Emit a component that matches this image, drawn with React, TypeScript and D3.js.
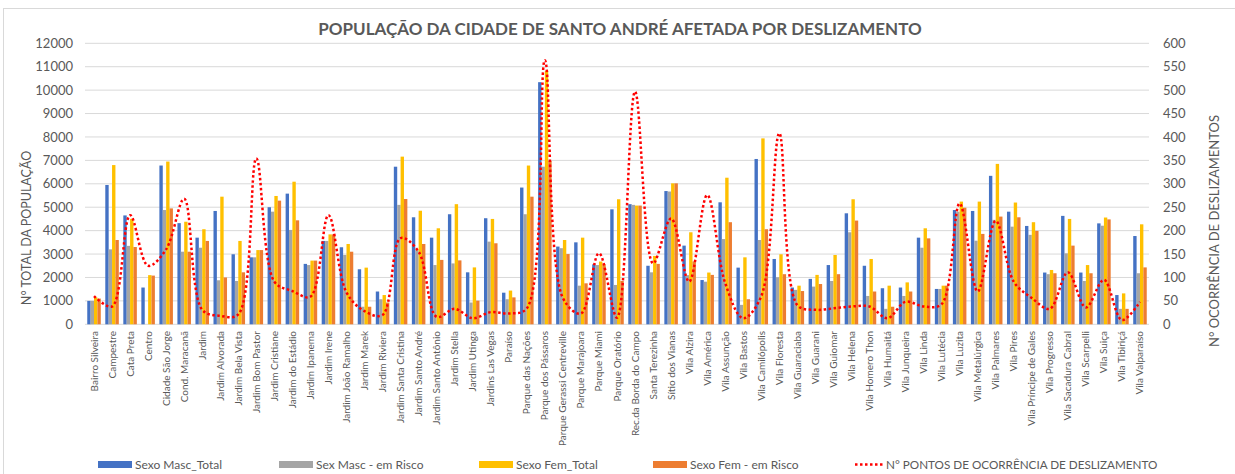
import React from 'react';
import * as d3 from 'd3';

const categories = [
  'Bairro Silveira', 'Campestre', 'Cata Preta', 'Centro', 'Cidade São Jorge', 'Cond. Maracanã',
  'Jardim', 'Jardim Alvorada', 'Jardim Bela Vista', 'Jardim Bom Pastor', 'Jardim Cristiane',
  'Jardim do Estádio', 'Jardim Ipanema', 'Jardim Irene', 'Jardim João Ramalho', 'Jardim Marek',
  'Jardim Riviera', 'Jardim Santa Cristina', 'Jardim Santo André', 'Jardim Santo Antônio',
  'Jardim Stella', 'Jardim Utinga', 'Jardins Las Vegas', 'Paraíso', 'Parque das Nações',
  'Parque dos Pássaros', 'Parque Gerassi Centreville', 'Parque Marajoara', 'Parque Miami',
  'Parque Oratório', 'Rec.da Borda do Campo', 'Santa Terezinha', 'Sítio dos Vianas', 'Vila Alzira',
  'Vila América', 'Vila Assunção', 'Vila Bastos', 'Vila Camilópolis', 'Vila Floresta',
  'Vila Guaraciaba', 'Vila Guarani', 'Vila Guiomar', 'Vila Helena', 'Vila Homero Thon',
  'Vila Humaitá', 'Vila Junqueira', 'Vila Linda', 'Vila Lutécia', 'Vila Luzita',
  'Vila Metalúrgica', 'Vila Palmares', 'Vila Pires', 'Vila Príncipe de Gales', 'Vila Progresso',
  'Vila Sacadura Cabral', 'Vila Scarpelli', 'Vila Suiça', 'Vila Tibiriçá', 'Vila Valparaíso',
];

const mascTotal = [
  1000, 5950, 4650, 1570, 6780, 4320, 3700, 4840, 2990, 2860, 5000, 5580, 2580, 3560, 3290,
  2350, 1400, 6730, 4570, 3700, 4700, 2220, 4530, 1350, 5840, 10340, 3320, 3500, 2560, 4910,
  5130, 2500, 5690, 3360, 1890, 5210, 2420, 7060, 2790, 1570, 1940, 2530, 4740, 2500, 1540,
  1570, 3700, 1510, 4880, 4840, 6340, 4810, 4200, 2210, 4630, 2210, 4310, 1250, 3770,
];
const mascRisco = [
  1000, 3200, 3350, 0, 4880, 3100, 3270, 1880, 1850, 2860, 4810, 4030, 2530, 3560, 2960,
  750, 1070, 5100, 3170, 2530, 2600, 930, 3530, 1070, 4700, 6730, 3250, 1650, 2530, 1680,
  5100, 2220, 5670, 2100, 1820, 3640, 830, 3600, 2010, 1470, 1610, 1850, 3930, 1210, 660,
  1210, 3270, 1510, 4810, 3570, 4460, 4170, 3820, 2140, 3030, 1850, 4210, 660, 2180,
];
const femTotal = [
  1150, 6800, 4500, 2100, 6950, 4380, 4060, 5450, 3560, 3170, 5480, 6090, 2720, 3840, 3430,
  2420, 1250, 7160, 4850, 4100, 5130, 2430, 4500, 1440, 6780, 10820, 3600, 3700, 2680, 5340,
  5070, 2920, 6020, 3930, 2210, 6260, 2860, 7940, 2990, 1650, 2110, 2960, 5340, 2790, 1650,
  1790, 4100, 1650, 5240, 5240, 6850, 5200, 4360, 2320, 4500, 2530, 4560, 1320, 4270,
];
const femRisco = [
  1100, 3600, 3300, 2080, 4950, 3100, 3560, 2000, 2220, 3170, 5280, 4440, 2720, 3840, 3100,
  750, 930, 5350, 3430, 2750, 2730, 1010, 3460, 1150, 5450, 6980, 3000, 1750, 2560, 1850,
  5070, 2580, 6020, 2680, 2110, 4360, 1070, 4060, 2140, 1420, 1720, 2140, 4430, 1400, 750,
  1400, 3670, 1650, 4980, 3860, 4600, 4570, 3990, 2180, 3360, 2180, 4480, 660, 2430,
];
// secondary axis: nº de pontos de ocorrência
const pontos = [
  60, 38, 233, 125, 160, 268, 31, 18, 21, 354, 91, 71, 59, 233, 68,
  28, 20, 184, 155, 16, 33, 13, 26, 23, 34, 564, 56, 23, 152, 14,
  497, 130, 226, 91, 276, 88, 13, 60, 408, 41, 31, 34, 38, 38, 13,
  48, 38, 43, 258, 70, 221, 91, 56, 33, 111, 36, 95, 9, 48,
];

const leftTicks = d3.range(0, 12001, 1000);
const rightTicks = d3.range(0, 601, 50);

const seriesNames = ['Sexo Masc_Total', 'Sex Masc - em Risco', 'Sexo Fem_Total', 'Sexo Fem - em Risco'];
const seriesColors = ['#4472C4', '#A5A5A5', '#FFC000', '#ED7D31'];
const lineName = 'N° PONTOS DE OCORRÊNCIA DE DESLIZAMENTO';

const W = 1235;
const H = 474;
const plot = { left: 85, right: 1149, top: 43.3, bottom: 324.3 };
const FONT = 'Lato, "Liberation Sans", sans-serif';
const TXT = '#595959';

export default function App() {
  const series = [mascTotal, mascRisco, femTotal, femRisco];

  const x = d3.scaleBand<string>()
    .domain(categories)
    .range([plot.left, plot.right])
    .paddingInner(0.25)
    .paddingOuter(0.125);
  const xs = d3.scaleBand<number>()
    .domain(d3.range(series.length))
    .range([0, x.bandwidth()]);
  const y = d3.scaleLinear().domain([0, 12000]).range([plot.bottom, plot.top]);
  const y2 = d3.scaleLinear().domain([0, 600]).range([plot.bottom, plot.top]);

  const cx = (c: string) => (x(c) as number) + x.bandwidth() / 2;

  const line = d3.line<number>()
    .x((_, i) => cx(categories[i]))
    .y(d => y2(d))
    .curve(d3.curveCatmullRom.alpha(0.5));

  const legendItems = [
    { x: 98, w: 34 },
    { x: 279, w: 34 },
    { x: 479, w: 34 },
    { x: 653, w: 34 },
  ];

  return (
    <svg width={W} height={H} style={{ position: 'absolute', left: 0, top: 0, background: '#fff' }}
      fontFamily={FONT}>
      <rect x={3.5} y={8.5} width={1240} height={480} fill="#fff" stroke="#d9d9d9" />

      <text x={620} y={35} textAnchor="middle" fontSize={17} fontWeight="bold" fill={TXT}>
        POPULAÇÃO DA CIDADE DE SANTO ANDRÉ AFETADA POR DESLIZAMENTO
      </text>

      {/* gridlines */}
      {leftTicks.map(t => (
        <line key={t} x1={plot.left} x2={plot.right} y1={y(t)} y2={y(t)} stroke="#d9d9d9" strokeWidth={1} />
      ))}

      {/* left axis labels */}
      {leftTicks.map(t => (
        <text key={t} x={73} y={y(t)} dy="0.35em" textAnchor="end" fontSize={13} fill={TXT}>{t}</text>
      ))}
      {/* right axis labels */}
      {rightTicks.map(t => (
        <text key={t} x={1163} y={y2(t)} dy="0.35em" textAnchor="start" fontSize={13} fill={TXT}>{t}</text>
      ))}

      <text transform={`translate(31,228) rotate(-90)`} textAnchor="middle" fontSize={12.5} fill={TXT}>
        N° TOTAL DA POPULAÇÃO
      </text>
      <text transform={`translate(1219,231) rotate(-90)`} textAnchor="middle" fontSize={13} fill={TXT}>
        N° OCORRÊNCIA DE DESLIZAMENTOS
      </text>

      {/* bars */}
      {series.map((vals, si) => (
        <g key={si} fill={seriesColors[si]}>
          {vals.map((v, i) => (
            <rect key={i}
              x={(x(categories[i]) as number) + (xs(si) as number)}
              y={y(v)}
              width={xs.bandwidth()}
              height={plot.bottom - y(v)} />
          ))}
        </g>
      ))}

      {/* line */}
      <path d={line(pontos) || ''} fill="none" stroke="#FF0000" strokeWidth={2.5}
        strokeDasharray="2.5 2.5" />

      {/* category labels */}
      {categories.map(c => (
        <text key={c} transform={`translate(${cx(c) + 3.5},331) rotate(-90)`} textAnchor="end"
          fontSize={10} fill={TXT}>{c}</text>
      ))}

      {/* legend */}
      {legendItems.map((it, i) => (
        <g key={i}>
          <rect x={it.x} y={461} width={it.w} height={7} fill={seriesColors[i]} />
          <text x={it.x + it.w + 3} y={468.5} fontSize={12} fill={TXT}>{seriesNames[i]}</text>
        </g>
      ))}
      <line x1={855} x2={883} y1={464.5} y2={464.5} stroke="#FF0000" strokeWidth={2.5} strokeDasharray="2.5 2.5" />
      <text x={886} y={468.5} fontSize={11.7} fill={TXT}>{lineName}</text>
    </svg>
  );
}
